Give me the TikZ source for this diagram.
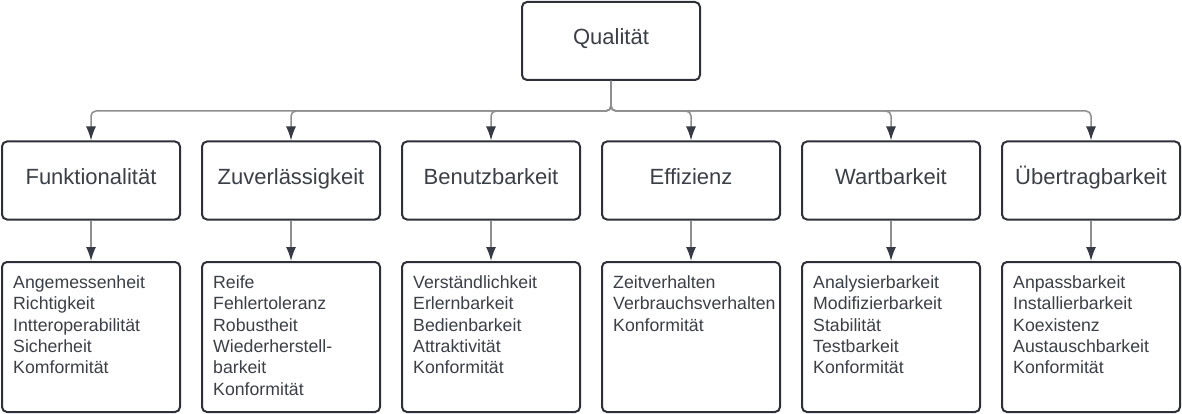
\documentclass[tikz,border=0pt]{standalone}
\usepackage{fontspec}
\setmainfont{Liberation Sans}
\usetikzlibrary{arrows.meta}
\definecolor{boxc}{HTML}{2D3038}
\definecolor{txtc}{HTML}{3B3F47}
\definecolor{linec}{HTML}{8E8E8E}
\definecolor{headc}{HTML}{363B45}
\begin{document}
\begin{tikzpicture}[x=1pt,y=-1pt,
  box/.style={draw=boxc, line width=2pt, rounded corners=5pt, fill=white, inner sep=0pt},
  headbox/.style={box, minimum width=178pt, minimum height=78pt, text=txtc,
     font=\fontsize{22}{26}\selectfont, text height=12pt, text depth=4pt},
  listbox/.style={box, minimum width=178pt, minimum height=150pt},
  listtext/.style={anchor=north west, inner sep=0pt, text=txtc, align=left,
     font=\fontsize{17.7}{21.4}\selectfont},
  conn/.style={draw=linec, line width=1.5pt, rounded corners=5pt,
     -{Latex[length=14pt,width=10pt,color=headc]}}]
\fill[white] (0,0) rectangle (1182,414);
\useasboundingbox (0,0) rectangle (1182,414);
\node[headbox] (q) at (611,41) {Qualität};
\coordinate (bus) at (611,111);
\foreach \n/\x/\t in {f/91/Funktionalität, z/291/Zuverlässigkeit, b/491/Benutzbarkeit, e/691/Effizienz, w/891/Wartbarkeit, u/1091/Übertragbarkeit}{
  \node[headbox] (\n) at (\x,180.5) {\t};
  \node[listbox] (\n l) at (\x,337) {};
  \draw[conn] (q.south) -- (q.south |- bus) -| (\n.north);
  \draw[conn] (\n.south) -- (\n l.north);
}
\node[listtext] (ft) at (13,275.3) {Angemessenheit\\Richtigkeit\\Intteroperabilität\\Sicherheit\\Komformität};
\node[listtext] (zt) at (213,275.3) {Reife\\Fehlertoleranz\\Robustheit\\Wiederherstell-\\barkeit\\Konformität};
\node[listtext] (bt) at (413,275.3) {Verständlichkeit\\Erlernbarkeit\\Bedienbarkeit\\Attraktivität\\Konformität};
\node[listtext] (et) at (613,275.3) {Zeitverhalten\\Verbrauchsverhalten\\Konformität};
\node[listtext] (wt) at (813,275.3) {Analysierbarkeit\\Modifizierbarkeit\\Stabilität\\Testbarkeit\\Konformität};
\node[listtext] (ut) at (1013,275.3) {Anpassbarkeit\\Installierbarkeit\\Koexistenz\\Austauschbarkeit\\Konformität};
\end{tikzpicture}
\end{document}
